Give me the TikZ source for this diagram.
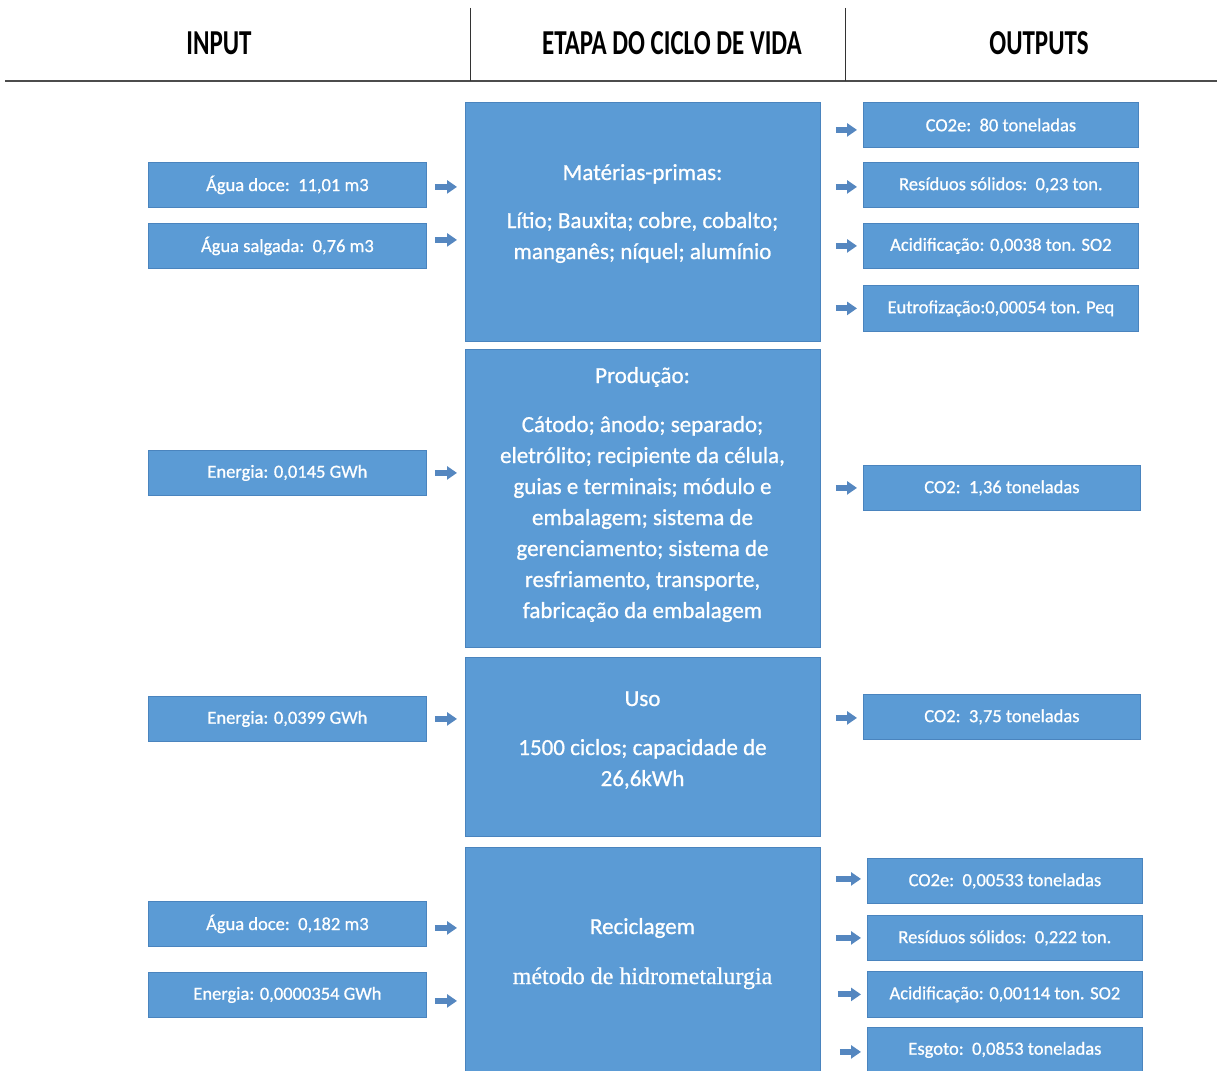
\documentclass[tikz,border=0pt]{standalone}
\usepackage{fontspec}
\usepackage{graphicx}
\setmainfont{Carlito}
\newfontfamily\heavy[FakeBold=0.8]{Carlito}
\newfontfamily\serifb[FakeBold=0.6]{Liberation Serif}
\usetikzlibrary{arrows.meta}
\definecolor{boxblue}{HTML}{5B9BD5}
\definecolor{boxedge}{HTML}{4A84BE}
\definecolor{arrowblue}{HTML}{5587C0}
\tikzset{
  smallbox/.style={draw=boxedge, fill=boxblue, line width=0.8pt, minimum width=278pt,
    minimum height=45pt, inner sep=0pt, text=white, font=\heavy\fontsize{18.5}{20}\selectfont, anchor=north west},
  stagebox/.style={draw=boxedge, fill=boxblue, line width=0.8pt, minimum width=355pt,
    inner sep=0pt, anchor=north west},
  stagetext/.style={text=white, align=center, font=\heavy\fontsize{23}{31}\selectfont, inner sep=0pt, anchor=base},
  headtext/.style={font=\bfseries\fontsize{25}{30}\selectfont, inner sep=0pt},
  flow/.style={draw=arrowblue, line width=6pt, -{Triangle[width=13pt,length=10pt]}},
  inflow/.style={flow, shorten <=8pt, shorten >=8pt},
  outflow/.style={flow, shorten <=15pt, shorten >=6pt},
}
\begin{document}
\begin{tikzpicture}[x=1pt,y=-1pt]
\useasboundingbox (0,0) rectangle (1217,1070);
\fill[white] (0,0) rectangle (1217,1070);
\clip (0,0) rectangle (1217,1070);

% header
\node[headtext] (hin) at (219,43) {\scalebox{1}[1.4]{INPUT}};
\node[headtext] (hstage) at (672,43) {\scalebox{1}[1.4]{ETAPA DO CICLO DE VIDA}};
\node[headtext] (hout) at (1039,43) {\scalebox{1}[1.4]{OUTPUTS}};
\draw[line width=2pt, black!70] (5,81) -- (1217,81);
\draw[line width=1pt, black!80] (470,8) -- (470,81);
\draw[line width=1pt, black!80] (845,8) -- (845,81);

% stage boxes
\node[stagebox, minimum height=239pt] (b1) at (465,102) {};
\node[stagebox, minimum height=298pt] (b2) at (465,349) {};
\node[stagebox, minimum height=179pt] (b3) at (465,657) {};
\node[stagebox, minimum height=240pt] (b4) at (465,847) {};

\node[stagetext] (t1) at (642.5,259) {Matérias-primas:\\[17pt]Lítio; Bauxita; cobre, cobalto;\\manganês; níquel; alumínio};
\node[stagetext] (t2) at (642.5,618) {Produção:\\[18pt]Cátodo; ânodo; separado;\\eletrólito; recipiente da célula,\\guias e terminais; módulo e\\embalagem; sistema de\\gerenciamento; sistema de\\resfriamento, transporte,\\fabricação da embalagem};
\node[stagetext] (t3) at (642.5,786) {Uso\\[18pt]1500 ciclos; capacidade de\\26,6kWh};
\node[stagetext] (t4) at (642.5,984) {Reciclagem\\[19pt]{\serifb\fontsize{24}{31}\selectfont método de hidrometalurgia}};

% inputs
\node[smallbox] (i1) at (148,162) {Água doce:\ \ 11,01 m3};
\node[smallbox] (i2) at (148,223) {Água salgada:\ \ 0,76 m3};
\node[smallbox] (i3) at (148,450) {Energia: 0,0145 GWh};
\node[smallbox] (i4) at (148,696) {Energia: 0,0399 GWh};
\node[smallbox] (i5) at (148,901) {Água doce:\ \ 0,182 m3};
\node[smallbox] (i6) at (148,972) {Energia: 0,0000354 GWh};

% outputs
\node[smallbox, minimum width=275pt] (o1) at (863,102) {CO2e:\ \ 80 toneladas};
\node[smallbox, minimum width=275pt] (o2) at (863,162) {Resíduos sólidos:\ \ 0,23 ton.};
\node[smallbox, minimum width=275pt] (o3) at (863,223) {Acidificação: 0,0038 ton. SO2};
\node[smallbox, minimum width=275pt, minimum height=46pt] (o4) at (863,285) {Eutrofização:0,00054 ton. Peq};
\node[smallbox, minimum width=277pt] (o5) at (863,465) {CO2:\ \ 1,36 toneladas};
\node[smallbox, minimum width=277pt] (o6) at (863,694) {CO2:\ \ 3,75 toneladas};
\node[smallbox, minimum width=275pt] (o7) at (867,858) {CO2e:\ \ 0,00533 toneladas};
\node[smallbox, minimum width=275pt] (o8) at (867,915) {Resíduos sólidos:\ \ 0,222 ton.};
\node[smallbox, minimum width=275pt, minimum height=46pt] (o9) at (867,971) {Acidificação: 0,00114 ton. SO2};
\node[smallbox, minimum width=275pt] (o10) at (867,1027) {Esgoto:\ \ 0,0853 toneladas};

% input arrows
\draw[inflow] ([yshift=-2pt]i1.east) -- ([yshift=-2pt]i1.east -| b1.west);
\draw[inflow] ([yshift=6pt]i2.east) -- ([yshift=6pt]i2.east -| b1.west);
\draw[inflow] (i3.east) -- (i3.east -| b2.west);
\draw[inflow] (i4.east) -- (i4.east -| b3.west);
\draw[inflow] ([yshift=-4pt]i5.east) -- ([yshift=-4pt]i5.east -| b4.west);
\draw[inflow] ([yshift=-6pt]i6.east) -- ([yshift=-6pt]i6.east -| b4.west);

% output arrows
\draw[outflow] ([yshift=-5pt]o1.west -| b1.east) -- ([yshift=-5pt]o1.west);
\draw[outflow] ([yshift=-2pt]o2.west -| b1.east) -- ([yshift=-2pt]o2.west);
\draw[outflow] (o3.west -| b1.east) -- (o3.west);
\draw[outflow] (o4.west -| b1.east) -- (o4.west);
\draw[outflow] (o5.west -| b2.east) -- (o5.west);
\draw[outflow] ([yshift=-1pt]o6.west -| b3.east) -- ([yshift=-1pt]o6.west);
\draw[outflow] ([yshift=2pt]o7.west -| b4.east) -- ([yshift=2pt]o7.west);
\draw[outflow] (o8.west -| b4.east) -- (o8.west);
\draw[outflow, shorten <=17pt] (o9.west -| b4.east) -- (o9.west);
\draw[outflow, shorten <=19pt] ([yshift=-2pt]o10.west -| b4.east) -- ([yshift=-2pt]o10.west);
\end{tikzpicture}
\end{document}
